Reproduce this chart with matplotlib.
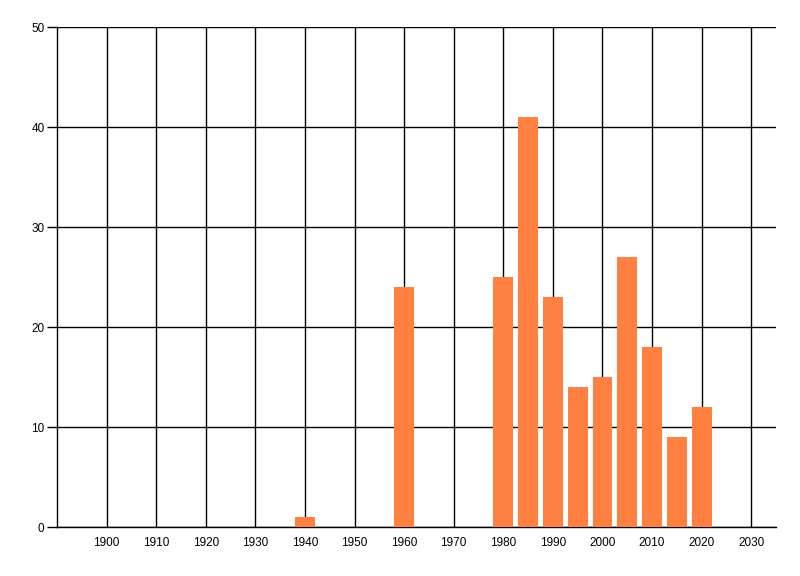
import matplotlib.pyplot as plt

years = [1940, 1960, 1980, 1985, 1990, 1995, 2000, 2005, 2010, 2015, 2020]
counts = [1, 24, 25, 41, 23, 14, 15, 27, 18, 9, 12]
x_ticks = list(range(1900, 2031, 10))
y_ticks = [0, 10, 20, 30, 40, 50]

plt.rcParams['font.family'] = ['Liberation Sans', 'DejaVu Sans']

fig = plt.figure(figsize=(8, 5.76), dpi=100)
ax = fig.add_axes([57 / 800, 1 - 527 / 576, (776 - 57) / 800, 500 / 576])

ax.bar(years, counts, width=4, color='#ff8040', zorder=3)

ax.set_xlim(1890, 2035)
ax.set_ylim(0, 50)
ax.set_xticks(x_ticks)
ax.set_yticks(y_ticks)
ax.grid(True, color='black', lw=1, zorder=1)
ax.set_axisbelow(True)

for side in ['top', 'right']:
    ax.spines[side].set_visible(False)
for side in ['left', 'bottom']:
    ax.spines[side].set_linewidth(1)

ax.tick_params(axis='x', length=0, pad=7, labelsize=8.5)
ax.tick_params(axis='y', length=7, width=1, pad=2, labelsize=8.5)

plt.savefig('out.png', dpi=100)
